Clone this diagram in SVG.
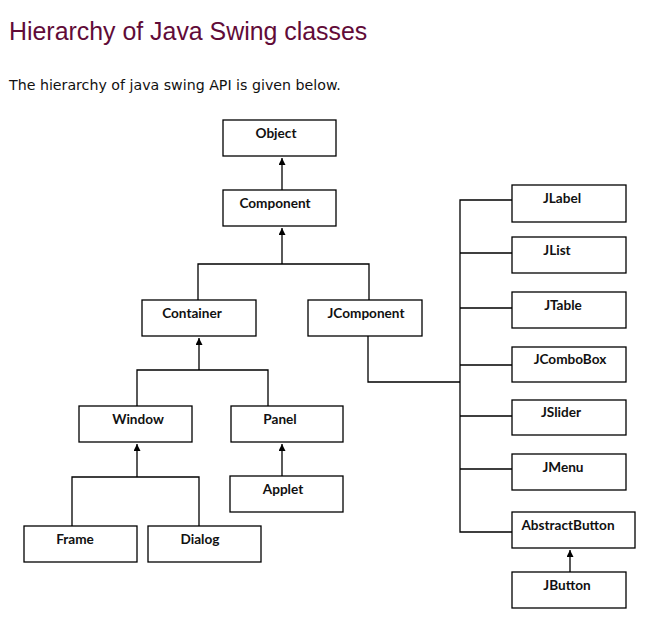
<svg xmlns="http://www.w3.org/2000/svg" width="658" height="623" viewBox="0 0 658 623">
<style>
.box{fill:#fff;stroke:#000;stroke-width:1.3}
.lbl{font-family:Lato,"Open Sans","Liberation Sans",sans-serif;font-weight:bold;font-size:13.6px;fill:#111;text-anchor:middle}
.ln{fill:none;stroke:#000;stroke-width:1.3}
.title{font-family:"Liberation Sans",Arial,sans-serif;font-size:24.9px;fill:#610b38}
.sub{font-family:"DejaVu Sans",Verdana,sans-serif;font-size:14.2px;fill:#111}
</style>
<defs>
<marker id="ah" markerWidth="8" markerHeight="8" refX="7" refY="3.5" orient="auto" markerUnits="userSpaceOnUse">
<path d="M0,0 L7,3.5 L0,7 Z" fill="#000"/>
</marker>
</defs>
<rect width="658" height="623" fill="#fff"/>
<text class="title" x="9" y="40">Hierarchy of Java Swing classes</text>
<text class="sub" x="9" y="90">The hierarchy of java swing API is given below.</text>
<g id="connectors">
<path class="ln" d="M282,190 V158" marker-end="url(#ah)"/>
<path class="ln" d="M198,300 V264 H369 V300 M282,264 V228" marker-end="url(#ah)"/>
<path class="ln" d="M137,406 V370 H268 V406 M199,370 V338" marker-end="url(#ah)"/>
<path class="ln" d="M72,526 V477 H199 V526 M137,477 V444" marker-end="url(#ah)"/>
<path class="ln" d="M282,476 V444" marker-end="url(#ah)"/>
<path class="ln" d="M368,336 V382 H460"/>
<path class="ln" d="M512,200 H460 V532 H512 M460,253 H512 M460,308 H512 M460,365 H512 M460,416 H512 M460,469 H512"/>
<path class="ln" d="M570,572 V550" marker-end="url(#ah)"/>
</g>
<g id="object"><rect class="box" x="223" y="120" width="113" height="36"/><text class="lbl" x="276" y="138">Object</text></g>
<g id="component"><rect class="box" x="223" y="190" width="113" height="36"/><text class="lbl" x="275" y="208">Component</text></g>
<g id="container"><rect class="box" x="142" y="300" width="114" height="36"/><text class="lbl" x="192" y="318">Container</text></g>
<g id="jcomponent"><rect class="box" x="308" y="300" width="114" height="36"/><text class="lbl" x="366" y="318">JComponent</text></g>
<g id="window"><rect class="box" x="79" y="406" width="113" height="36"/><text class="lbl" x="138" y="424">Window</text></g>
<g id="panel"><rect class="box" x="231" y="406" width="112" height="36"/><text class="lbl" x="280" y="424">Panel</text></g>
<g id="applet"><rect class="box" x="230" y="476" width="113" height="36"/><text class="lbl" x="283" y="494">Applet</text></g>
<g id="frame"><rect class="box" x="24" y="526" width="113" height="36"/><text class="lbl" x="75" y="544">Frame</text></g>
<g id="dialog"><rect class="box" x="148" y="526" width="113" height="36"/><text class="lbl" x="200" y="544">Dialog</text></g>
<g id="jlabel"><rect class="box" x="512" y="185" width="114" height="37"/><text class="lbl" x="562" y="203">JLabel</text></g>
<g id="jlist"><rect class="box" x="512" y="237" width="114" height="36"/><text class="lbl" x="557" y="255">JList</text></g>
<g id="jtable"><rect class="box" x="512" y="292" width="114" height="36"/><text class="lbl" x="563" y="310">JTable</text></g>
<g id="jcombobox"><rect class="box" x="512" y="347" width="114" height="35"/><text class="lbl" x="570" y="364">JComboBox</text></g>
<g id="jslider"><rect class="box" x="512" y="400" width="114" height="35"/><text class="lbl" x="561" y="417">JSlider</text></g>
<g id="jmenu"><rect class="box" x="512" y="454" width="114" height="36"/><text class="lbl" x="563" y="472">JMenu</text></g>
<g id="abstractbutton"><rect class="box" x="512" y="512" width="123" height="36"/><text class="lbl" x="568" y="530">AbstractButton</text></g>
<g id="jbutton"><rect class="box" x="512" y="572" width="114" height="36"/><text class="lbl" x="567" y="590">JButton</text></g>
</svg>
